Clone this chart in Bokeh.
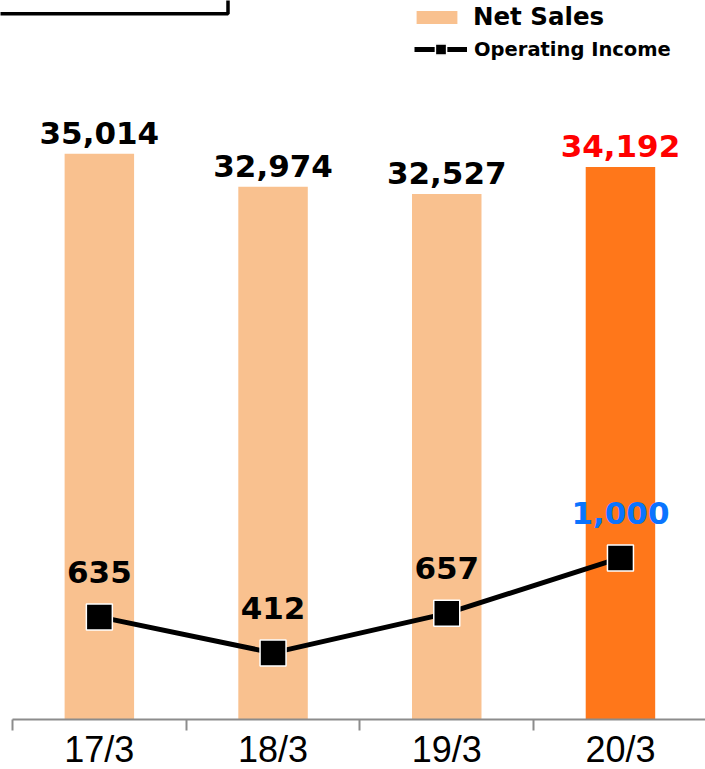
import numpy as np
from bokeh.plotting import figure
from bokeh.models import (ColumnDataSource, Range1d, LinearAxis, FixedTicker,
                          Legend, LegendItem, BoxAnnotation)
from bokeh.core.properties import value
from bokeh.embed import file_html
from bokeh.resources import INLINE

# ---- data ----
periods = ["17/3", "18/3", "19/3", "20/3"]
net_sales = [35014, 32974, 32527, 34192]
operating_income = [635, 412, 657, 1000]
bar_colors = ["#F9C18F", "#F9C18F", "#F9C18F", "#FF771A"]
sales_label_colors = ["#000000", "#000000", "#000000", "#FF0000"]
income_label_colors = ["#000000", "#000000", "#000000", "#0A74FF"]

# ---- layout geometry ----
W, H = 705, 769
PX_PER_CAT = 173.7
LEFT_PAD = 12
AXIS_PX = 719          # canvas y of the zero line
SALES_MAX = 44500
INCOME_MAX = 4450

xc = list(np.arange(len(periods)) + 0.5)
below = (H - AXIS_PX) / AXIS_PX

src = ColumnDataSource(dict(
    x=xc, sales=net_sales, income=operating_income, color=bar_colors,
    sales_lbl=[f"{v:,}" for v in net_sales],
    income_lbl=[f"{v:,}" for v in operating_income],
    sales_lbl_color=sales_label_colors, income_lbl_color=income_label_colors,
))

p = figure(width=W, height=H,
           x_range=Range1d(-LEFT_PAD / PX_PER_CAT, (W - LEFT_PAD) / PX_PER_CAT),
           y_range=Range1d(-SALES_MAX * below, SALES_MAX),
           output_backend="svg", toolbar_location=None, min_border=0,
           x_axis_location=None, y_axis_location=None, outline_line_color=None)
p.extra_y_ranges = {"inc": Range1d(-INCOME_MAX * below, INCOME_MAX)}
p.grid.visible = False
p.background_fill_color = "white"
p.border_fill_color = "white"

# title box fragment (cut off at top-left)
p.add_layout(BoxAnnotation(left=-1, right=(227.5 - LEFT_PAD) / PX_PER_CAT,
                           bottom=SALES_MAX * (AXIS_PX - 13.3) / AXIS_PX, top=SALES_MAX * 2,
                           fill_color="white", fill_alpha=1,
                           line_color="black", line_alpha=1, line_width=3.5))

bars = p.vbar(x="x", top="sales", width=0.4, fill_color="color", line_color=None, source=src)

line = p.line(x="x", y="income", y_range_name="inc", line_color="black", line_width=5, source=src)
pts = p.scatter(x="x", y="income", y_range_name="inc", marker="square", size=26,
                fill_color="black", line_color="white", line_width=1.5, source=src)

p.text(x="x", y="sales", text="sales_lbl", text_color="sales_lbl_color", source=src,
       text_align="center", text_baseline="alphabetic", y_offset=-21,
       text_font=value("DejaVu Sans"), text_font_style="bold", text_font_size="31px")
p.text(x="x", y="income", text="income_lbl", text_color="income_lbl_color", source=src,
       y_range_name="inc",
       text_align="center", text_baseline="alphabetic", y_offset=-45,
       text_font=value("DejaVu Sans"), text_font_style="bold", text_font_size="31px")

# x axis: boundary ticks (minor) and centred labels (major)
xaxis = LinearAxis(fixed_location=0, bounds=(0, len(periods)),
                   ticker=FixedTicker(ticks=xc, minor_ticks=list(range(len(periods) + 1))),
                   major_label_overrides={float(v): lab for v, lab in zip(xc, periods)})
xaxis.axis_line_color = "#8C8C8C"
xaxis.axis_line_width = 2
xaxis.major_tick_out = 0
xaxis.major_tick_in = 0
xaxis.minor_tick_out = 11
xaxis.minor_tick_in = 0
xaxis.minor_tick_line_color = "#8C8C8C"
xaxis.minor_tick_line_width = 2
xaxis.major_label_standoff = -2
xaxis.major_label_text_font = "Liberation Sans"
xaxis.major_label_text_font_size = "36px"
xaxis.major_label_text_color = "black"
p.add_layout(xaxis, "below")

leg_common = dict(padding=0, margin=0, spacing=0, border_line_color=None,
                  background_fill_alpha=0,
                  label_text_font="DejaVu Sans", label_text_font_style="bold",
                  label_text_color="black")
leg1 = Legend(items=[LegendItem(label="Net Sales", renderers=[bars], index=0)],
              location=(411, 738), glyph_width=51, glyph_height=16, label_standoff=11,
              label_text_font_size="24.5px", **leg_common)
leg2 = Legend(items=[LegendItem(label="Operating Income", renderers=[line, pts], index=0)],
              location=(414, 706), glyph_width=53, glyph_height=28, label_standoff=7,
              label_text_font_size="19.5px", **leg_common)
p.add_layout(leg1)
p.add_layout(leg2)

open("out.html", "w").write(file_html(p, INLINE))
